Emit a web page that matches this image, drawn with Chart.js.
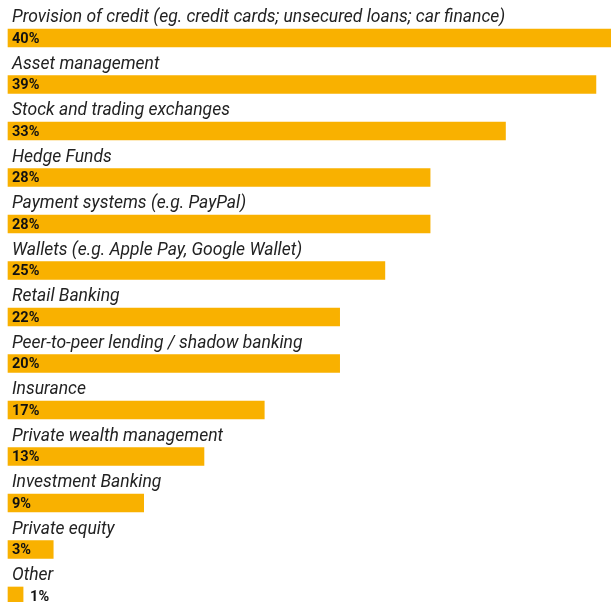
<!DOCTYPE html>
<html>
<head>
<meta charset="utf-8">
<script src="https://cdn.jsdelivr.net/npm/chart.js@4"></script>
<style>
  html, body { margin: 0; padding: 0; background: #fff; }
  #wrap { width: 611px; height: 602px; }
</style>
</head>
<body>
<div id="wrap"><canvas id="fintechChart" width="611" height="602"></canvas></div>
<script>
// categories, bar lengths and printed value labels
const categories = [
    'Provision of credit (eg. credit cards; unsecured loans; car finance)',
    'Asset management',
    'Stock and trading exchanges',
    'Hedge Funds',
    'Payment systems (e.g. PayPal)',
    'Wallets (e.g. Apple Pay, Google Wallet)',
    'Retail Banking',
    'Peer-to-peer lending / shadow banking',
    'Insurance',
    'Private wealth management',
    'Investment Banking',
    'Private equity',
    'Other'
];
const values = [40, 39, 33, 28, 28, 25, 22, 22, 17, 13, 9, 3, 1];
const valueLabels = ['40%', '39%', '33%', '28%', '28%', '25%', '22%', '20%', '17%', '13%', '9%', '3%', '1%'];

const barColor = '#F9B100';
const ctx = document.getElementById('fintechChart').getContext('2d');

// --- labels above the bars and values inside them ---
const labelPlugin = {
    id: 'barLabels',
    afterDatasetsDraw(chart) {
        const c = chart.ctx;
        const meta = chart.getDatasetMeta(0);
        c.save();
        meta.data.forEach((bar, i) => {
            const top = bar.y - bar.height / 2;
            // category text above the bar
            c.font = 'italic 17.5px Roboto';
            c.fillStyle = '#222';
            c.textBaseline = 'alphabetic';
            c.textAlign = 'left';
            c.fillText(categories[i], bar.base + 4, top - 7);

            // value text inside the bar (or just after it if it doesn't fit)
            c.font = 'bold 14.5px Roboto';
            c.fillStyle = '#111';
            c.textBaseline = 'middle';
            const w = c.measureText(valueLabels[i]).width;
            let x = bar.base + 4;
            if (w + 8 > bar.x - bar.base) x = bar.x + 7;
            c.fillText(valueLabels[i], x, bar.y + 1);
        });
        c.restore();
    }
};

new Chart(ctx, {
    type: 'bar',
    data: {
        labels: categories,
        datasets: [{
            data: values,
            backgroundColor: barColor,
            borderWidth: 0,
            barThickness: 18,
            clip: false
        }]
    },
    options: {
        indexAxis: 'y',
        responsive: false,
        animation: false,
        layout: { padding: { left: 8, right: 0, top: 38, bottom: 6 } },
        scales: {
            x: { display: false, min: 0, max: 40 },
            y: { display: false, offset: false }
        },
        plugins: {
            legend: { display: false },
            tooltip: { enabled: false }
        }
    },
    plugins: [labelPlugin]
});
</script>
</body>
</html>
